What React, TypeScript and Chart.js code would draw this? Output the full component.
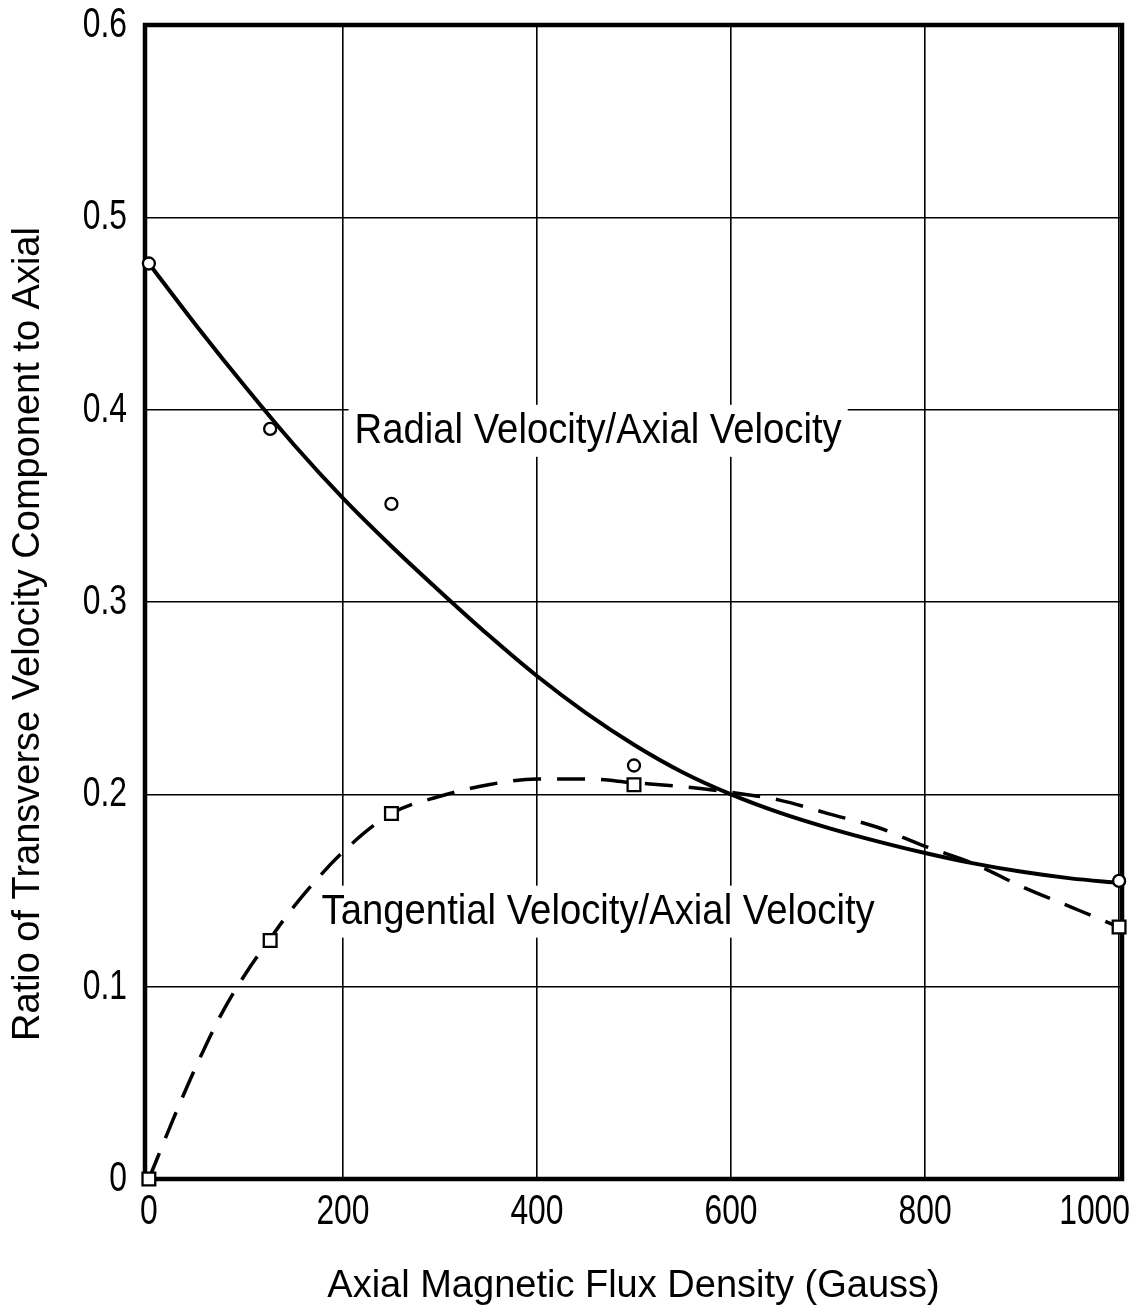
import React, { useEffect, useRef } from 'react';
import { Chart, registerables } from 'chart.js';

Chart.register(...registerables);

const FONT = '"Liberation Sans", Arial, sans-serif';

// Axis ticks
const xTickValues = [0, 200, 400, 600, 800, 1000];
const yTickValues = [0, 0.1, 0.2, 0.3, 0.4, 0.5, 0.6];

// Axis titles
const xAxisTitle = 'Axial Magnetic Flux Density (Gauss)';
const yAxisTitle = 'Ratio of Transverse Velocity Component to Axial';

// Measured points
const fluxDensity = [0, 125, 250, 500, 1000];
const radialRatio = [0.476, 0.39, 0.351, 0.215, 0.155];
const tangentialRatio = [0, 0.124, 0.19, 0.205, 0.131];

// Faired curves
const radialCurveX = [0, 50, 100, 150, 200, 250, 300, 350, 400, 450, 500, 550, 600, 650, 700, 750, 800, 850, 900, 950, 1000];
const radialCurveY = [0.476, 0.443, 0.4115, 0.3815, 0.354, 0.329, 0.3055, 0.2828, 0.2615, 0.2425, 0.2258, 0.2115, 0.2, 0.1905, 0.1826, 0.1757, 0.1695, 0.1641, 0.1597, 0.1563, 0.154];

const tangentialCurveX = [0, 25, 50, 75, 100, 125, 150, 200, 250, 300, 350, 400, 450, 500, 550, 600, 650, 700, 750, 800, 850, 900, 950, 1000];
const tangentialCurveY = [0, 0.031, 0.06, 0.086, 0.107, 0.125, 0.142, 0.17, 0.19, 0.199, 0.205, 0.208, 0.208, 0.206, 0.204, 0.201, 0.197, 0.19, 0.183, 0.173, 0.164, 0.152, 0.1415, 0.131];

// Curve labels (anchored in data units: left edge, vertical middle)
const curveLabels = ['Radial Velocity/Axial Velocity', 'Tangential Velocity/Axial Velocity'];
const curveLabelX = [212, 178];
const curveLabelY = [0.389, 0.139];

const toXY = (xs: number[], ys: number[]) => xs.map((x, i) => ({ x, y: ys[i] }));

const formatY = (v: number) => (v === 0 ? '0' : v.toFixed(1));

// draws horizontally condensed text (the original uses a condensed typeface)
function condensedText(
  ctx: CanvasRenderingContext2D,
  text: string,
  x: number,
  y: number,
  size: number,
  sx: number,
  align: CanvasTextAlign,
) {
  ctx.save();
  ctx.translate(x, y);
  ctx.scale(sx, 1);
  ctx.font = `${size}px ${FONT}`;
  ctx.textAlign = align;
  ctx.textBaseline = 'middle';
  ctx.fillStyle = '#000000';
  ctx.fillText(text, 0, 0);
  ctx.restore();
}

function textWidth(ctx: CanvasRenderingContext2D, text: string, size: number, sx: number) {
  ctx.save();
  ctx.font = `${size}px ${FONT}`;
  const w = ctx.measureText(text).width * sx;
  ctx.restore();
  return w;
}

const decorPlugin = {
  id: 'decor',
  beforeDraw(chart: any) {
    const { ctx, width, height } = chart;
    ctx.save();
    ctx.fillStyle = '#ffffff';
    ctx.fillRect(0, 0, width, height);
    ctx.restore();
  },
  beforeDatasetsDraw(chart: any) {
    const { ctx, chartArea: a, scales, width } = chart;
    const xs = scales.x;
    const ys = scales.y;

    // curve labels on white boxes
    const LABEL_SIZE = 43;
    const LABEL_SX = 0.89;
    curveLabels.forEach((t, i) => {
      const px = xs.getPixelForValue(curveLabelX[i]);
      const py = ys.getPixelForValue(curveLabelY[i]);
      const w = textWidth(ctx, t, LABEL_SIZE, LABEL_SX);
      ctx.save();
      ctx.fillStyle = '#ffffff';
      ctx.fillRect(px - 6, py - 26, w + 12, 52);
      ctx.restore();
      condensedText(ctx, t, px, py, LABEL_SIZE, LABEL_SX, 'left');
    });

    // plot frame
    ctx.save();
    ctx.strokeStyle = '#000000';
    ctx.lineWidth = 4.5;
    ctx.strokeRect(a.left, a.top, a.right - a.left, a.bottom - a.top);
    ctx.restore();

    // tick labels
    const TICK_SIZE = 43;
    const TICK_SX = 0.74;
    xTickValues.forEach((v) => {
      const t = String(v);
      const w = textWidth(ctx, t, TICK_SIZE, TICK_SX);
      const px = Math.min(xs.getPixelForValue(v), width - 10 - w / 2);
      condensedText(ctx, t, px, a.bottom + 33, TICK_SIZE, TICK_SX, 'center');
    });
    yTickValues.forEach((v) => {
      condensedText(ctx, formatY(v), a.left - 18, ys.getPixelForValue(v), TICK_SIZE, TICK_SX, 'right');
    });

    // y axis title
    ctx.save();
    ctx.translate(29, (a.top + a.bottom) / 2 + 32);
    ctx.rotate(-Math.PI / 2);
    condensedText(ctx, yAxisTitle, 0, 0, 38, 1, 'center');
    ctx.restore();
  },
};

export default function App() {
  const ref = useRef<HTMLCanvasElement | null>(null);

  useEffect(() => {
    document.body.style.margin = '0';
    const canvas = ref.current;
    if (!canvas) return;
    const chart = new Chart(canvas, {
      type: 'scatter',
      data: {
        datasets: [
          {
            label: 'Radial Velocity/Axial Velocity (data)',
            data: toXY(fluxDensity, radialRatio),
            showLine: false,
            pointStyle: 'circle',
            pointRadius: 6,
            pointBorderWidth: 2.3,
            pointBorderColor: '#000',
            pointBackgroundColor: '#fff',
            clip: false,
            order: 0,
          },
          {
            label: 'Tangential Velocity/Axial Velocity (data)',
            data: toXY(fluxDensity, tangentialRatio),
            showLine: false,
            pointStyle: 'rect',
            pointRadius: 9,
            pointBorderWidth: 2.3,
            pointBorderColor: '#000',
            pointBackgroundColor: '#fff',
            clip: false,
            order: 0,
          },
          {
            label: 'Radial Velocity/Axial Velocity',
            data: toXY(radialCurveX, radialCurveY),
            showLine: true,
            borderColor: '#000',
            borderWidth: 4,
            pointRadius: 0,
            cubicInterpolationMode: 'monotone',
            clip: false,
            order: 1,
          },
          {
            label: 'Tangential Velocity/Axial Velocity',
            data: toXY(tangentialCurveX, tangentialCurveY),
            showLine: true,
            borderColor: '#000',
            borderWidth: 3.5,
            borderDash: [28, 16],
            pointRadius: 0,
            cubicInterpolationMode: 'monotone',
            clip: false,
            order: 1,
          },
        ] as any,
      },
      options: {
        animation: false,
        responsive: false,
        devicePixelRatio: 1,
        events: [],
        layout: { padding: { top: 25, right: 18, left: 0, bottom: 0 } },
        plugins: {
          legend: { display: false },
          tooltip: { enabled: false },
        },
        scales: {
          x: {
            type: 'linear',
            min: -4,
            max: 1003,
            afterBuildTicks: (s: any) => {
              s.ticks = xTickValues.map((v) => ({ value: v }));
            },
            afterFit: (s: any) => {
              s.height = 131;
              s.paddingLeft = 0;
              s.paddingRight = 0;
            },
            border: { display: false },
            grid: {
              color: (c: any) => (c.tick && c.tick.value === 0 ? 'rgba(0,0,0,0)' : '#000'),
              lineWidth: 1.6,
              drawTicks: false,
            },
            ticks: { display: false },
            title: {
              display: true,
              text: xAxisTitle,
              color: '#000',
              font: { family: FONT, size: 38, lineHeight: 1.21 },
              padding: { top: 0, bottom: 0 },
            },
          },
          y: {
            type: 'linear',
            min: 0,
            max: 0.6,
            afterBuildTicks: (s: any) => {
              s.ticks = yTickValues.map((v) => ({ value: v }));
            },
            afterFit: (s: any) => {
              s.width = 145;
              s.paddingTop = 0;
              s.paddingBottom = 0;
            },
            border: { display: false },
            grid: {
              color: '#000',
              lineWidth: 1.6,
              drawTicks: false,
            },
            ticks: { display: false },
            title: { display: false },
          },
        },
      } as any,
      plugins: [decorPlugin],
    });
    return () => chart.destroy();
  }, []);

  return (
    <div style={{ width: 1140, height: 1310 }}>
      <canvas ref={ref} width={1140} height={1310} style={{ display: 'block', width: 1140, height: 1310 }} />
    </div>
  );
}
